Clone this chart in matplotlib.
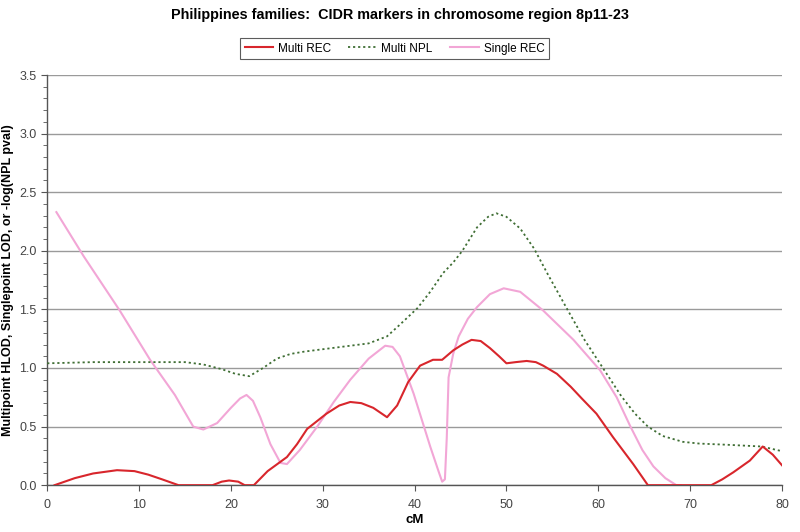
import matplotlib.pyplot as plt
from matplotlib.ticker import MultipleLocator

plt.rcParams['font.family'] = ['Liberation Sans', 'DejaVu Sans']

# Multi REC (multipoint HLOD)
rec_x = [0.8, 3, 5, 7.6, 9.5, 11, 12.5, 14.3, 16, 18, 19, 19.8, 20.8, 21.5, 22.5,
         24, 26.1, 27.2, 28.3, 30.4, 31.8, 33.0, 34.2, 35.5, 37.0, 38.1, 38.4, 39.3,
         40.6, 42.0, 43.0, 44.2, 45.2, 46.2, 47.2, 48.2, 49.2, 50.0, 51.0, 52.2, 53.2,
         54.0, 55.5, 57.0, 58.2, 59.8, 61.6, 63.8, 65.4, 66.5, 69, 72.3, 73.5, 74.7,
         76.5, 77.9, 79.0, 80.0]
rec_y = [0.0, 0.06, 0.10, 0.128, 0.12, 0.09, 0.05, 0.0, 0.0, 0.0, 0.03, 0.04, 0.03,
         0.0, 0.0, 0.12, 0.24, 0.35, 0.48, 0.61, 0.68, 0.71, 0.70, 0.66, 0.58, 0.68,
         0.73, 0.88, 1.02, 1.07, 1.07, 1.15, 1.20, 1.24, 1.23, 1.17, 1.10, 1.04, 1.05,
         1.06, 1.05, 1.02, 0.95, 0.84, 0.74, 0.61, 0.41, 0.18, 0.0, 0.0, 0.0, 0.0,
         0.05, 0.11, 0.21, 0.33, 0.26, 0.17]

# Multi NPL (-log NPL p-value)
npl_x = [0, 5, 10, 15, 17, 19, 20.5, 22, 23.5, 25, 26.5, 28, 30, 33, 35, 37, 38.4,
         40.3, 41.7, 43.1, 44.2, 45.2, 46.8, 48.0, 48.9, 50.0, 51.5, 53, 54.5, 56.7,
         58.5, 60.5, 62.5, 64.0, 65.4, 67, 69.2, 71, 74, 77.8, 80.0]
npl_y = [1.04, 1.05, 1.05, 1.05, 1.03, 0.99, 0.95, 0.93, 1.0, 1.08, 1.12, 1.14, 1.16,
         1.19, 1.21, 1.27, 1.37, 1.51, 1.65, 1.81, 1.90, 2.00, 2.20, 2.29, 2.32, 2.29,
         2.19, 2.02, 1.80, 1.49, 1.24, 1.00, 0.76, 0.61, 0.50, 0.42, 0.37, 0.355, 0.345,
         0.33, 0.29]

# Single REC (singlepoint LOD)
srec_x = [1.0, 4, 7.9, 11.2, 13.9, 15.9, 17.0, 18.5, 20.0, 21.0, 21.7, 22.4, 23.2,
          24.3, 25.4, 26.1, 27.5, 29.4, 31.2, 33.0, 35.0, 36.8, 37.6, 38.4, 39.9, 41.7,
          42.6, 43.0, 43.3, 43.5, 43.7, 44.2, 44.8, 45.8, 46.8, 48.2, 49.7, 51.5, 54.0,
          57.3, 60.2, 62.0, 63.5, 64.8, 66.0, 67.3, 68.5, 69.0]
srec_y = [2.33, 1.95, 1.49, 1.07, 0.77, 0.50, 0.475, 0.53, 0.66, 0.74, 0.77, 0.72, 0.58,
          0.35, 0.19, 0.18, 0.30, 0.50, 0.71, 0.90, 1.08, 1.19, 1.18, 1.10, 0.78, 0.33,
          0.12, 0.03, 0.05, 0.40, 0.92, 1.12, 1.27, 1.42, 1.52, 1.63, 1.68, 1.65, 1.49,
          1.24, 0.98, 0.75, 0.50, 0.30, 0.16, 0.06, 0.0, 0.0]

fig = plt.figure(figsize=(8.0, 5.32), dpi=100)
ax = fig.add_axes([0.059, 0.088, 0.9185, 0.771])

ax.plot(rec_x, rec_y, color='#d8262c', lw=1.5, label='Multi REC', zorder=4)
ax.plot(npl_x, npl_y, color='#3f6e34', lw=1.3, ls=(0, (1.2, 1.6)), label='Multi NPL', zorder=3)
ax.plot(srec_x, srec_y, color='#f2a6d6', lw=1.5, label='Single REC', zorder=2)

ax.set_xlim(0, 80)
ax.set_ylim(0, 3.5)
ax.xaxis.set_major_locator(MultipleLocator(10))
ax.yaxis.set_major_locator(MultipleLocator(0.5))
ax.yaxis.set_minor_locator(MultipleLocator(0.1))
ax.yaxis.set_major_formatter(plt.FormatStrFormatter('%.1f'))
ax.grid(axis='y', which='major', color='#9a9a9a', lw=1.0, zorder=0)

for s in ['top', 'right']:
    ax.spines[s].set_visible(False)
for s in ['left', 'bottom']:
    ax.spines[s].set_color('#555555')
    ax.spines[s].set_linewidth(1.0)

ax.tick_params(axis='both', which='major', labelsize=9, colors='#555555',
               labelcolor='#444444', length=4, direction='out')
ax.tick_params(axis='y', which='minor', length=3, colors='#555555')
ax.tick_params(axis='x', pad=6)

ax.set_xlabel('cM', fontsize=9.5, fontweight='bold')
ax.xaxis.set_label_coords(0.5, -0.07)
ax.set_ylabel('Multipoint HLOD, Singlepoint LOD, or -log(NPL pval)',
              fontsize=9, fontweight='bold')

fig.suptitle('Philippines families:  CIDR markers in chromosome region 8p11-23',
             fontsize=10.4, fontweight='bold', y=0.985)

leg = fig.legend(loc='upper center', bbox_to_anchor=(0.493, 0.94), ncol=3,
                 fontsize=8.5, frameon=True, fancybox=False, edgecolor='#333333',
                 handlelength=2.4, columnspacing=1.5, handletextpad=0.4,
                 borderpad=0.4)
leg.get_frame().set_linewidth(0.8)

fig.savefig('out.png', dpi=100)
